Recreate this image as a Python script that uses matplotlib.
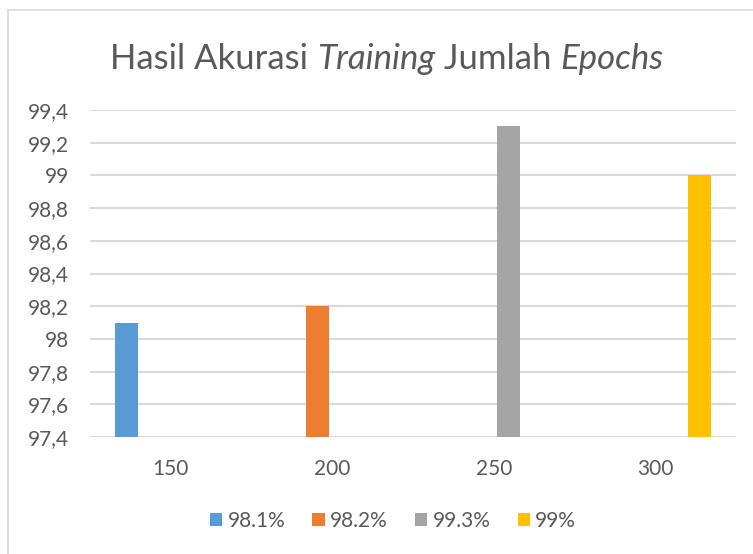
import matplotlib
matplotlib.use("Agg")
import matplotlib.pyplot as plt
from matplotlib.lines import Line2D
from matplotlib.patches import Patch
import numpy as np

categories = ["150", "200", "250", "300"]
series_names = ["98.1%", "98.2%", "99.3%", "99%"]
series_values = [
    [98.1, None, None, None],
    [None, 98.2, None, None],
    [None, None, 99.3, None],
    [None, None, None, 99.0],
]
colors = ["#5B9BD5", "#ED7D31", "#A5A5A5", "#FFC000"]
y_ticks = [97.4, 97.6, 97.8, 98.0, 98.2, 98.4, 98.6, 98.8, 99.0, 99.2, 99.4]
y_tick_labels = ["97,4", "97,6", "97,8", "98", "98,2", "98,4", "98,6", "98,8", "99", "99,2", "99,4"]

plt.rcParams['font.family'] = ['Lato', 'DejaVu Sans']
txt = "#595959"

fig = plt.figure(figsize=(7.53, 5.54), dpi=100)
ax = fig.add_axes([90/753, 1-437/554, (736-90)/753, (437-110)/554])

x = np.arange(len(categories))
step = 0.183
width = 0.143
base = 97.4
for i, (vals, c) in enumerate(zip(series_values, colors)):
    off = (i - 1.5) * step
    for j, v in enumerate(vals):
        if v is not None:
            ax.bar(x[j] + off, v - base, width, bottom=base, color=c, zorder=3)

ax.set_xlim(-0.5, len(categories) - 0.5)
ax.set_ylim(97.4, 99.4)
ax.set_yticks(y_ticks)
ax.set_yticklabels(y_tick_labels)
ax.set_xticks(x)
ax.set_xticklabels(categories)
ax.tick_params(axis='both', length=0, labelsize=15, colors=txt)
ax.tick_params(axis='y', pad=15)
ax.tick_params(axis='x', pad=16)
for s in ax.spines.values():
    s.set_visible(False)
ax.yaxis.grid(True, color="#D9D9D9", linewidth=1.5, zorder=0)
ax.set_axisbelow(True)

# title with italic parts
parts = [("Hasil Akurasi ", "normal"), ("Training", "italic"), (" Jumlah ", "normal"), ("Epochs", "italic")]
fig.canvas.draw()
r = fig.canvas.get_renderer()
fs = 25
texts = []
total = 0
for s, st in parts:
    t = fig.text(0, 0, s, fontsize=fs, style=st, color=txt)
    bb = t.get_window_extent(renderer=r)
    texts.append((t, bb.width))
    total += bb.width
cx = 387
xpos = cx - total / 2
for t, w in texts:
    t.set_position((xpos / 753, 1 - 69 / 554))
    xpos += w

handles = [Patch(facecolor=c, edgecolor='none') for c in colors]
fig.legend(handles, series_names, loc='center', bbox_to_anchor=(393/753, 1-521/554),
           ncol=4, frameon=False, fontsize=15, handlelength=0.6, handleheight=0.6,
           handletextpad=0.25, columnspacing=1.3, labelcolor=txt)

fig.add_artist(Line2D([8/753, 8/753], [0, 1-10/554], color="#D9D9D9", linewidth=1.2, transform=fig.transFigure))
fig.add_artist(Line2D([8/753, 1], [1-10/554, 1-10/554], color="#D9D9D9", linewidth=1.2, transform=fig.transFigure))

fig.savefig("out.png", dpi=100)
